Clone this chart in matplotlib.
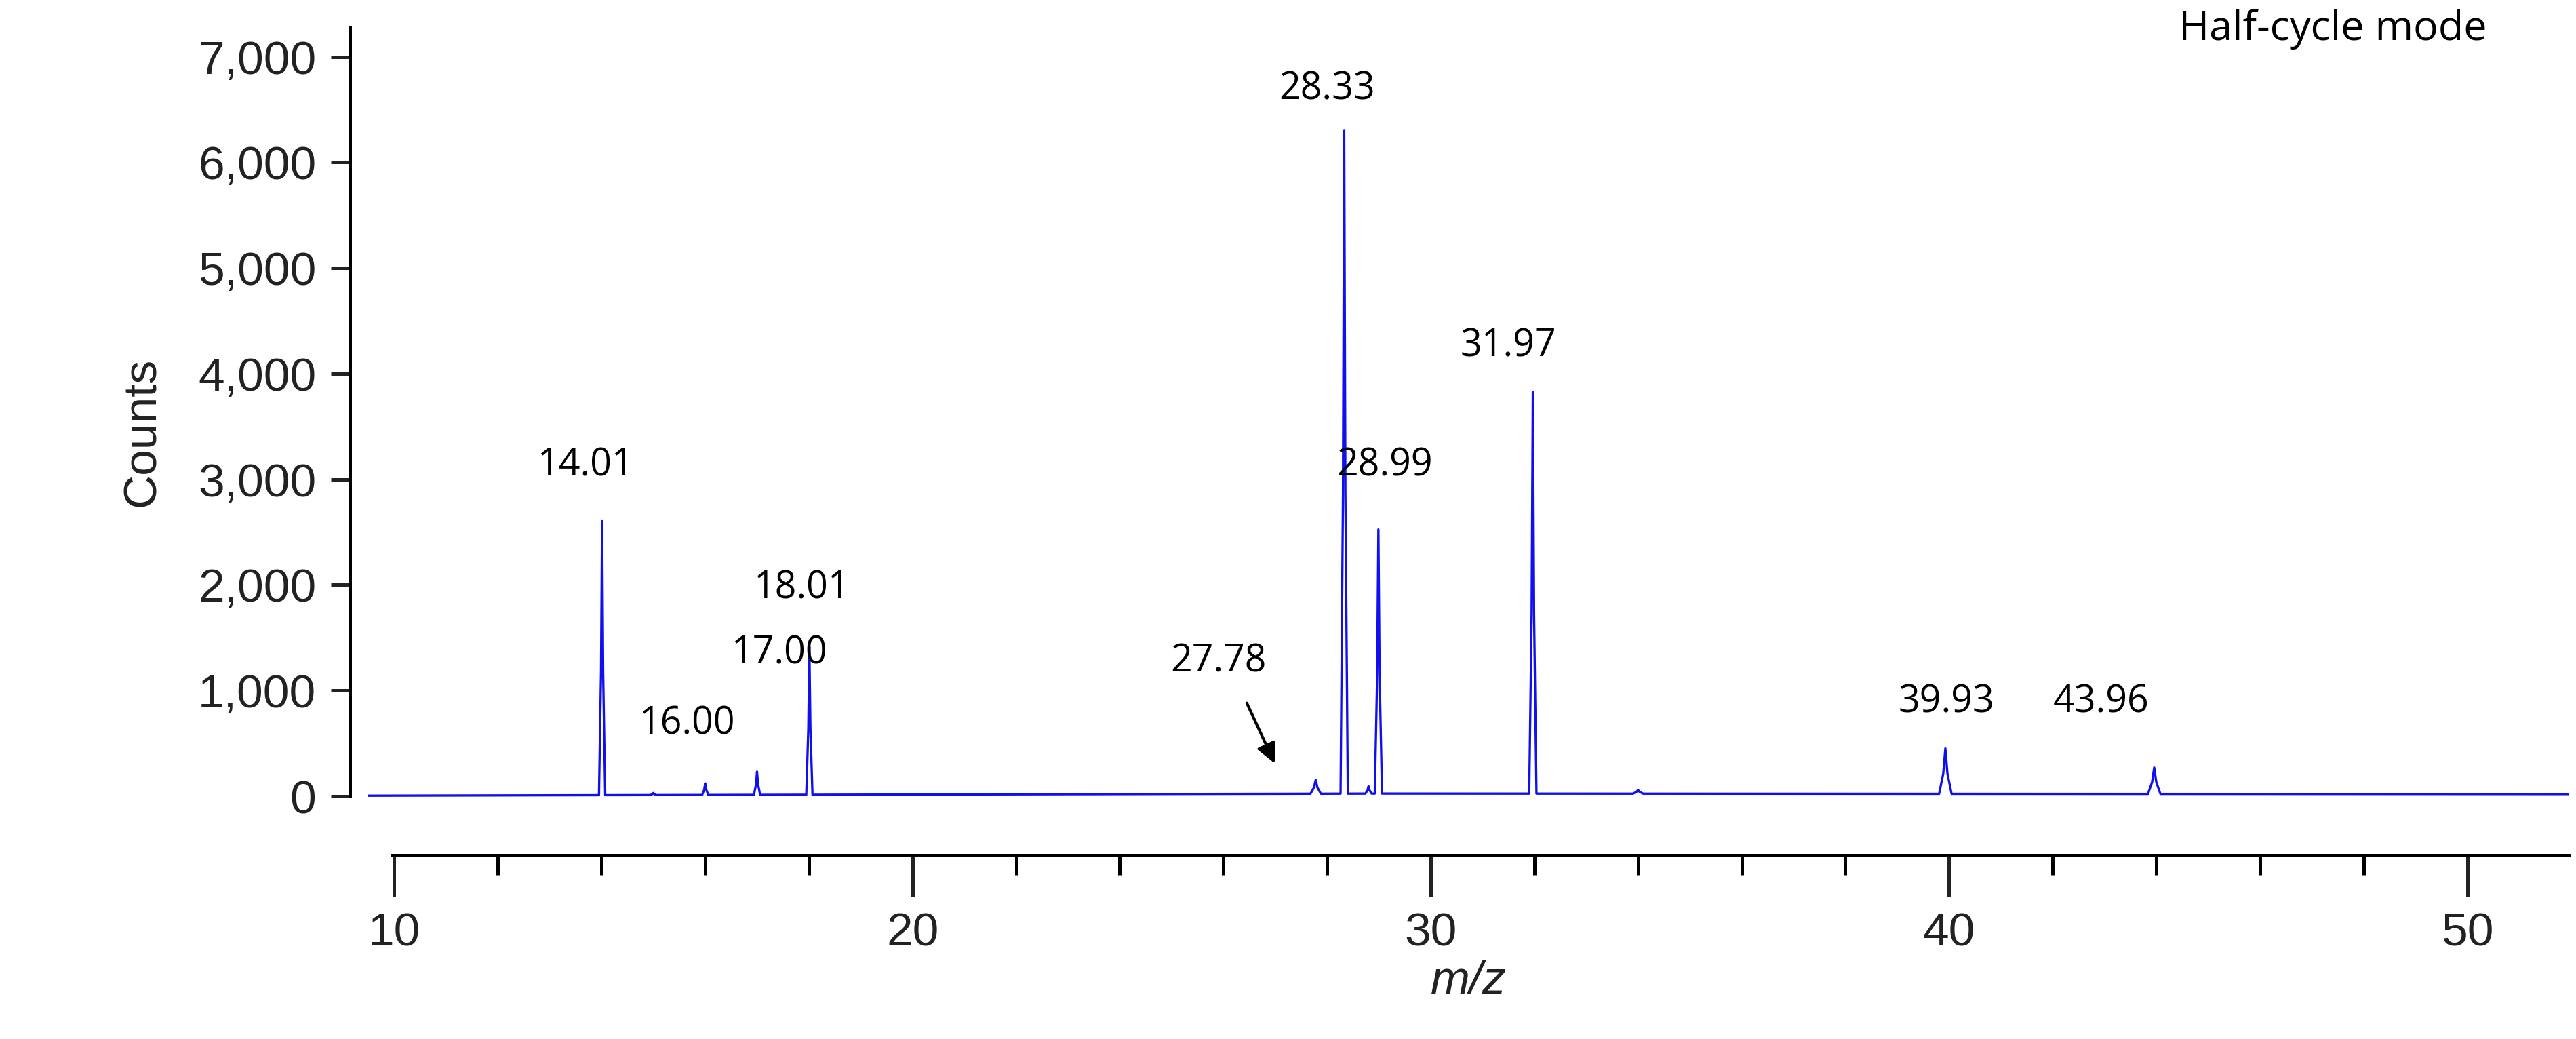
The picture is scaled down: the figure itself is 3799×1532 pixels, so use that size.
import matplotlib
matplotlib.use("Agg")
import matplotlib.pyplot as plt
import numpy as np

peak_centers = [14.01, 15.0, 16.00, 17.00, 18.01, 27.78, 28.33, 28.80, 28.99, 31.97, 34.0, 39.93, 43.96]
peak_heights = [2600, 20, 110, 220, 1400, 130, 6280, 70, 2500, 3800, 35, 430, 250]
peak_widths = [0.06, 0.06, 0.06, 0.06, 0.06, 0.1, 0.07, 0.06, 0.07, 0.07, 0.1, 0.12, 0.12]
baseline_x = [9.5, 29.1, 52.2]
baseline_y = [5, 25, 20]
labels = ["14.01", "16.00", "17.00", "18.01", "27.78", "28.33", "28.99", "31.97", "39.93", "43.96"]
label_x = [13.68, 15.64, 17.42, 17.86, 25.91, 28.0, 29.11, 31.49, 39.95, 42.93]
label_y = [3128, 681, 1347, 1967, 1270, 6690, 3128, 4259, 883, 883]

xs = [baseline_x[0]]
ys = [baseline_y[0]]
for c, h, w in sorted(zip(peak_centers, peak_heights, peak_widths)):
    b = np.interp(c, baseline_x, baseline_y)
    xs += [c - w, c - w / 3, c, c + w / 3, c + w]
    ys += [b, b + h * 0.45, b + h, b + h * 0.45, b]
xs.append(baseline_x[-1]); ys.append(baseline_y[-1])
order = np.argsort(xs, kind="stable")
xs = np.array(xs)[order]; ys = np.array(ys)[order]

plt.rcParams['font.family'] = ['Liberation Sans', 'DejaVu Sans']
fig = plt.figure(figsize=(18.995, 7.66), dpi=200)
ax = fig.add_axes([0.143, 0.193, 0.854, 0.783])
ax.plot(xs, ys, color="#1010ee", lw=1.2)
ax.set_xlim(9.5, 51.95)
ax.set_ylim(-400, 7300)

for s in ["top", "right"]:
    ax.spines[s].set_visible(False)
ax.spines["left"].set_position(("outward", 9.7))
ax.spines["bottom"].set_position(("outward", 9))
ax.spines["left"].set_bounds(0, 7280)
ax.spines["bottom"].set_bounds(9.95, 51.95)
for s in ["left", "bottom"]:
    ax.spines[s].set_linewidth(1.8)

ax.set_yticks(range(0, 7001, 1000))
ax.set_yticklabels([f"{v:,}" for v in range(0, 7001, 1000)])
ax.set_xticks([10, 20, 30, 40, 50])
ax.set_xticks(np.arange(12, 52, 2), minor=True)
ax.tick_params(axis="both", which="major", labelsize=25, width=1.8, colors="#222222")
ax.tick_params(axis="y", length=10, pad=8)
ax.tick_params(axis="x", which="major", length=22, pad=8)
ax.tick_params(axis="x", which="minor", length=10.5, width=1.8)

ax.set_ylabel("Counts", fontsize=25, labelpad=18, color="#222222")
ax.set_xlabel("m/z", fontsize=25, style="italic", labelpad=2, color="#222222")

for t, x, y in zip(labels, label_x, label_y):
    ax.text(x, y, t, ha="center", va="center", fontsize=20, family=["Open Sans", "DejaVu Sans"])
ax.annotate("", xy=(27.02, 279), xytext=(26.42, 914),
            arrowprops=dict(arrowstyle="-|>", color="black", lw=1.5, mutation_scale=22))
ax.text(0.963, 1.02, "Half-cycle mode", transform=ax.transAxes, ha="right", va="top",
        fontsize=22, family=["Open Sans", "DejaVu Sans"])

fig.savefig("out.png", dpi=200)
